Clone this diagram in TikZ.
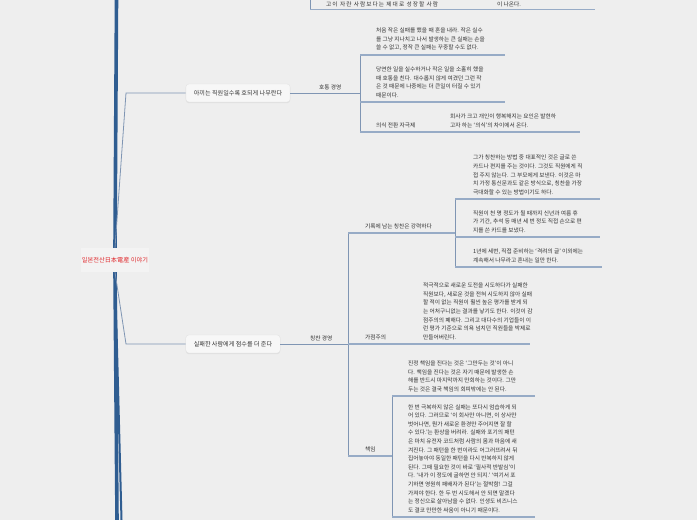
\documentclass[tikz,border=0pt]{standalone}
\usepackage{fontspec}
\setmainfont{Noto Sans CJK KR}
\usepackage{tikz}
\usetikzlibrary{positioning,shadows,calc}
\definecolor{mapbg}{HTML}{EEEEEE}
\definecolor{maplight}{HTML}{F3F3F3}
\definecolor{mapbox}{HTML}{F7F7F7}
\definecolor{mapedge}{HTML}{E0E0E0}
\definecolor{mapdark}{HTML}{2F5D91}
\definecolor{mapline}{HTML}{7F95B3}
\definecolor{mapul}{HTML}{97ABC6}
\definecolor{maptext}{HTML}{333333}
\definecolor{maproot}{HTML}{E02A2E}
\tikzstyle{trunk} = [draw=mapdark, line width=3.6pt]

\begin{document}
\begin{tikzpicture}[x=1pt,y=-1pt,
  topic/.style={rectangle, rounded corners=3pt, fill=mapbox, draw=mapedge, line width=0.3pt, font=\fontsize{6.1}{8}\selectfont, text=maptext, minimum height=18pt, inner xsep=8pt, drop shadow={shadow xshift=0pt, shadow yshift=-1.2pt, opacity=0.12}},
  tag/.style={anchor=south west, inner sep=0pt, font=\fontsize{5.7}{8.6}\selectfont, text=maptext},
  leaf/.style={tag, align=left},
  twig/.style={draw=mapline, line width=0.8pt},
  rim/.style={draw=mapul, line width=1.2pt}]

\fill[mapbg] (0,0) rectangle (697,520);
\useasboundingbox (0,0) rectangle (697,520);

\node[font=\fontsize{6.2}{8}\selectfont, text=maproot, fill=maplight, minimum height=24pt, inner xsep=1pt, inner ysep=0pt] (root) at (115,260) {일본전산日本電産 이야기};
\draw[trunk] (root.north) -- (116.5,0);
\draw[trunk] (root.south) -- (117,520);
\draw[mapdark, line width=2pt] (root.south) -- (121.5,520);

\node[topic] (scold) at (238,93) {아끼는 직원일수록 호되게 나무란다};
\node[topic] (praise) at (233,344) {실패한 사람에게 점수를 더 준다};
\coordinate (knee1) at (126,93);
\coordinate (knee2) at (126,344);
\draw[twig] (root.north) -- (knee1) -- (scold);
\draw[twig] (root.south) -- (knee2) -- (praise);

% top, cut off
\coordinate (tbtop) at (310,0);
\coordinate (tbbot) at (310,9.5);
\draw[twig] (tbtop) -- (tbbot);
\draw[rim] (tbbot) -- ++(285,0);
\node[tag, font=\fontsize{5.7}{8.6}\selectfont\addfontfeature{LetterSpace=18}] (grown) at (326,7) {고이 자란 사람보다는 제대로 성장할 사람};
\node[tag] (comes) at (497,7) {이 나온다.};

% scolding
\node[tag] (roar) at (319,90) {호통 경영};
\coordinate (rbtop) at (360,55);
\coordinate (rbmid) at (360,102);
\coordinate (rbbot) at (360,132);
\coordinate (rbjoin) at (360,93);
\draw[twig] (scold) -- (rbjoin);
\draw[twig] (rbtop) -- (rbbot);
\draw[rim] (rbtop) -- ++(145,0);
\draw[rim] (rbmid) -- ++(145,0);
\draw[rim] (rbbot) -- ++(220,0);
\node[leaf] (roar1) at (376,51) {처음 작은 실패를 했을 때 혼을 내라. 작은 실수\\를 그냥 지나치고 나서 발생하는 큰 실패는 손을\\쓸 수 없고, 정작 큰 실패는 꾸중할 수도 없다.};
\node[leaf] (roar2) at (376,98) {당연한 일을 실수하거나 작은 일을 소홀히 했을\\때 호통을 친다. 대수롭지 않게 여겼던 그런 작\\은 것 때문에 나중에는 더 큰일이 터질 수 있기\\때문이다.};
\node[tag] (mind) at (376,128) {의식 전환 자극제};
\node[leaf] (mind1) at (450,128) {회사가 크고 개인이 행복해지는 요인은 발현하\\고자 하는 `의식'의 차이에서 온다.};

% praising
\node[tag] (cheer) at (310,341) {칭찬 경영};
\coordinate (pbtop) at (348,233);
\coordinate (pbmid) at (348,344);
\coordinate (pbbot) at (348,456);
\draw[twig] (praise) -- (pbmid);
\draw[twig] (pbtop) -- (pbbot);

\node[tag] (record) at (365,229) {기록에 남는 칭찬은 강력하다};
\draw[rim] (pbtop) -- ++(107,0);
\coordinate (qbtop) at (455,199);
\coordinate (qbmid) at (455,237);
\coordinate (qbbot) at (455,267);
\draw[twig] (qbtop) -- (qbbot);
\draw[rim] (qbtop) -- ++(145,0);
\draw[rim] (qbmid) -- ++(145,0);
\draw[rim] (qbbot) -- ++(147,0);
\node[leaf] (record1) at (473,195) {그가 칭찬하는 방법 중 대표적인 것은 글로 쓴\\카드나 편지를 주는 것이다. 그것도 직원에게 직\\접 주지 않는다. 그 부모에게 보낸다. 이것은 마\\치 가정 통신문과도 같은 방식으로, 칭찬을 가장\\극대화할 수 있는 방법이기도 하다.};
\node[leaf] (record2) at (473,233) {직원이 천 명 정도가 될 때까지 신년과 여름 휴\\가 기간, 추석 등 매년 세 번 정도 직접 손으로 편\\지를 쓴 카드를 보냈다.};
\node[leaf] (record3) at (473,263) {1년에 세번, 직접 준비하는 `격려의 글' 이외에는\\계속해서 나무라고 혼내는 일만 한다.};

\node[tag] (plus) at (365,340) {가점주의};
\draw[rim] (pbmid) -- ++(182,0);
\node[leaf] (plus1) at (423,340) {적극적으로 새로운 도전을 시도하다가 실패한\\직원보다, 새로운 것을 전혀 시도하지 않아 실패\\할 적이 없는 직원이 훨씬 높은 평가를 받게 되\\는 어처구니없는 결과를 낳기도 한다. 이것이 감\\점주의의 폐해다. 그리고 대다수의 기업들이 이\\런 평가 기준으로 의욕 넘치던 직원들을 박제로\\만들어버린다.};

\node[tag] (duty) at (365,452) {책임};
\draw[rim] (pbbot) -- ++(44,0);
\coordinate (dbtop) at (392,396);
\coordinate (dbbot) at (392,517);
\draw[twig] (dbtop) -- (dbbot);
\draw[rim] (dbtop) -- ++(143,0);
\draw[rim] (dbbot) -- ++(143,0);
\node[leaf] (duty1) at (408,392) {진정 책임을 진다는 것은 `그만두는 것'이 아니\\다. 책임을 진다는 것은 자기 때문에 발생한 손\\해를 반드시 마지막까지 만회하는 것이다. 그만\\두는 것은 결국 책임의 회피밖에는 안 된다.};
\node[leaf] (duty2) at (408,513) {한 번 극복하지 않은 실패는 또다시 엄습하게 되\\어 있다. 그러므로 `이 회사만 아니면, 이 상사만\\벗어나면, 뭔가 새로운 환경만 주어지면 잘 할\\수 있다.'는 환상을 버려라. 실패와 포기의 패턴\\은 마치 유전자 코드처럼 사람의 몸과 마음에 새\\겨진다. 그 패턴을 한 번이라도 어그러뜨려서 뒤\\집어놓아야 동일한 패턴을 다시 반복하지 않게\\된다. 그때 필요한 것이 바로 `필사적 반발심'이\\다. `내가 이 정도에 굴하면 안 되지.' `여기서 포\\기하면 영원히 패배자가 된다'는 절박함! 그걸\\가져야 한다. 한 두 번 시도해서 안 되면 말겠다\\는 정신으로 살아남을 수 없다. 인생도 비즈니스\\도 결코 만만한 싸움이 아니기 때문이다.};
\end{tikzpicture}
\end{document}
